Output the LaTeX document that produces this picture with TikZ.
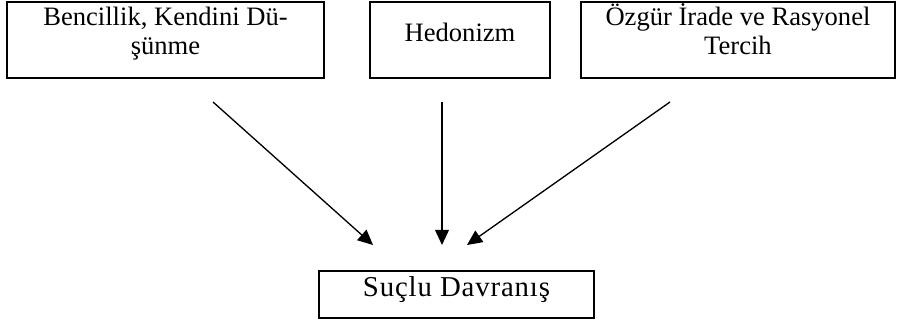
\documentclass[tikz,border=0pt]{standalone}
\usepackage{fontspec}
\setmainfont{Liberation Serif}
\usepackage{tikz}
\usetikzlibrary{arrows.meta, positioning, calc}

\begin{document}
\begin{tikzpicture}[
        kutu/.style={draw, line width=0.9pt, inner sep=0pt, align=flush center, anchor=base,
            font=\fontsize{12}{13.1}\selectfont},
        ok/.style={-{Triangle[length=0.24cm, width=0.22cm]}, line width=0.6pt}
    ]
        \useasboundingbox (0,0) rectangle (14.254,5.079);

        % kutular ust
        \node[kutu, text width=5.032cm, text height=0.381cm, text depth=0.825cm] (benc) at (2.627,4.667) {Bencillik, Kendini Dü-\\şünme};
        \node[kutu, text width=2.857cm, text height=0.635cm, text depth=0.571cm] (hedo) at (7.302,4.413) {Hedonizm};
        \node[kutu, text width=4.984cm, text height=0.381cm, text depth=0.825cm] (ozgur) at (11.714,4.667) {Özgür İrade ve Rasyonel\\Tercih};

        % kutu alt
        \node[kutu, text width=4.365cm, text height=0.413cm, text depth=0.333cm] (sucl) at (7.246,0.365) {\fontsize{13}{14}\selectfont\addfontfeature{LetterSpace=3}Suçlu Davranış};

        % oklar
        \coordinate (a1) at (3.381,3.460);
        \coordinate (a2) at (7.016,3.460);
        \coordinate (a3) at (10.635,3.460);
        \coordinate (t1) at (5.921,1.190);
        \coordinate (t2) at (7.016,1.190);
        \coordinate (t3) at (7.413,1.190);

        \draw[ok] (a1) -- (t1);
        \draw[ok] (a2) -- (t2);
        \draw[ok] (a3) -- (t3);
    \end{tikzpicture}
\end{document}
